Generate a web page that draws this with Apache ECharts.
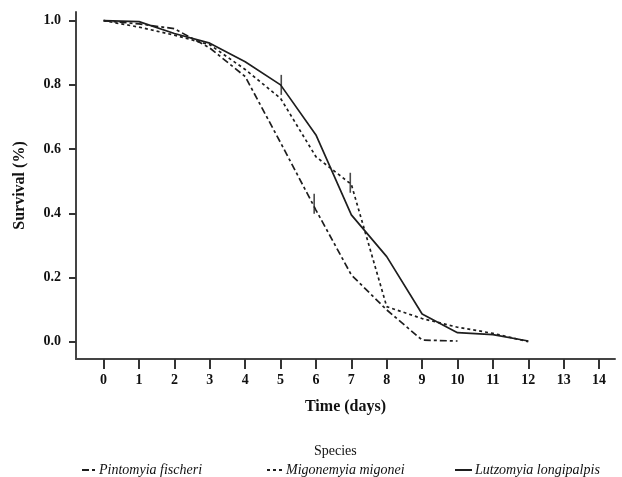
<!DOCTYPE html>
<html>
<head>
<meta charset="utf-8">
<script src="https://cdn.jsdelivr.net/npm/echarts@6/dist/echarts.min.js"></script>
<style>
html,body{margin:0;padding:0;background:#fff;}
#chart{width:622px;height:477px;}
</style>
</head>
<body>
<div id="chart"></div>
<script>
// Data
const days = [0, 1, 2, 3, 4, 5, 6, 7, 8, 9, 10, 11, 12];
const xTicks = [0, 1, 2, 3, 4, 5, 6, 7, 8, 9, 10, 11, 12, 13, 14];
const yTicks = [0, 0.2, 0.4, 0.6, 0.8, 1.0];
const fischeri = [1.0, 0.99, 0.975, 0.915, 0.826, 0.62, 0.41, 0.208, 0.099, 0.005, 0.002];
const migonei = [1.0, 0.98, 0.955, 0.925, 0.848, 0.758, 0.576, 0.49, 0.109, 0.072, 0.045, 0.026, 0.0];
const longipalpis = [1.0, 0.997, 0.96, 0.93, 0.872, 0.80, 0.644, 0.395, 0.265, 0.086, 0.028, 0.022, 0.002];
// censored observations [day, survival]
const censorFischeri = [[5.95, 0.43]];
const censorMigonei = [[6.97, 0.495]];
const censorLongipalpis = [[5.02, 0.80]];
const names = ['Pintomyia fischeri', 'Migonemyia migonei', 'Lutzomyia longipalpis'];

const pair = arr => arr.map((v, i) => [days[i], v]);
const lineColor = '#1e1e1e';
const serif = '"Liberation Serif", "DejaVu Serif", serif';

const chart = echarts.init(document.getElementById('chart'), null, {renderer: 'canvas'});

function lineSeries(name, data, type) {
  return {
    name: name, type: 'line', data: pair(data), symbol: 'none',
    lineStyle: {color: lineColor, width: 1.7, type: type},
    itemStyle: {color: lineColor},
    animation: false, z: 3
  };
}
function censorSeries(data) {
  return {
    type: 'scatter', data: data, symbol: 'rect', symbolSize: [1.6, 20],
    itemStyle: {color: lineColor}, animation: false, z: 4, silent: true
  };
}
function legendFor(name, left, w) {
  return {
    data: [name], left: left, top: 458, itemWidth: w, itemHeight: 10,
    itemGap: 0, selectedMode: false,
    itemStyle: {opacity: 0},
    lineStyle: {width: 2},
    textStyle: {fontFamily: serif, fontStyle: 'italic', fontSize: 14, color: '#111', padding: [0, 0, 0, -2]}
  };
}

chart.setOption({
  backgroundColor: '#fff',
  animation: false,
  title: {
    text: 'Species', left: 309, top: 439,
    textStyle: {fontFamily: serif, fontWeight: 'normal', fontSize: 14, color: '#111'}
  },
  legend: [
    legendFor(names[0], 76, 14),
    legendFor(names[1], 261, 16),
    legendFor(names[2], 449, 17)
  ],
  grid: {left: 76, right: 7, top: 12, bottom: 118, containLabel: false},
  xAxis: {
    type: 'value', min: -0.78, max: 14.45,
    name: 'Time (days)', nameLocation: 'middle', nameGap: 40,
    nameTextStyle: {fontFamily: serif, fontWeight: 'bold', fontSize: 16, color: '#111'},
    axisLine: {show: true, onZero: false, lineStyle: {color: '#444', width: 2}},
    axisTick: {show: true, length: 10, lineStyle: {color: '#333', width: 2}, customValues: xTicks},
    axisLabel: {customValues: xTicks, margin: 14, fontFamily: serif, fontWeight: 'bold', fontSize: 14, color: '#111'},
    splitLine: {show: false}
  },
  yAxis: {
    type: 'value', min: -0.054, max: 1.027,
    name: 'Survival (%)', nameLocation: 'middle', nameGap: 48,
    nameTextStyle: {fontFamily: serif, fontWeight: 'bold', fontSize: 16, color: '#111'},
    axisLine: {show: true, onZero: false, lineStyle: {color: '#444', width: 2}},
    axisTick: {show: true, length: 7, lineStyle: {color: '#333', width: 2}, customValues: yTicks},
    axisLabel: {customValues: yTicks, margin: 15, fontFamily: serif, fontWeight: 'bold', fontSize: 14, color: '#111',
      formatter: v => Number(v).toFixed(1)},
    splitLine: {show: false}
  },
  series: [
    lineSeries(names[0], fischeri, [7, 3, 3, 3]),
    lineSeries(names[1], migonei, [3, 3]),
    lineSeries(names[2], longipalpis, 'solid'),
    censorSeries(censorFischeri),
    censorSeries(censorMigonei),
    censorSeries(censorLongipalpis)
  ]
});
</script>
</body>
</html>
